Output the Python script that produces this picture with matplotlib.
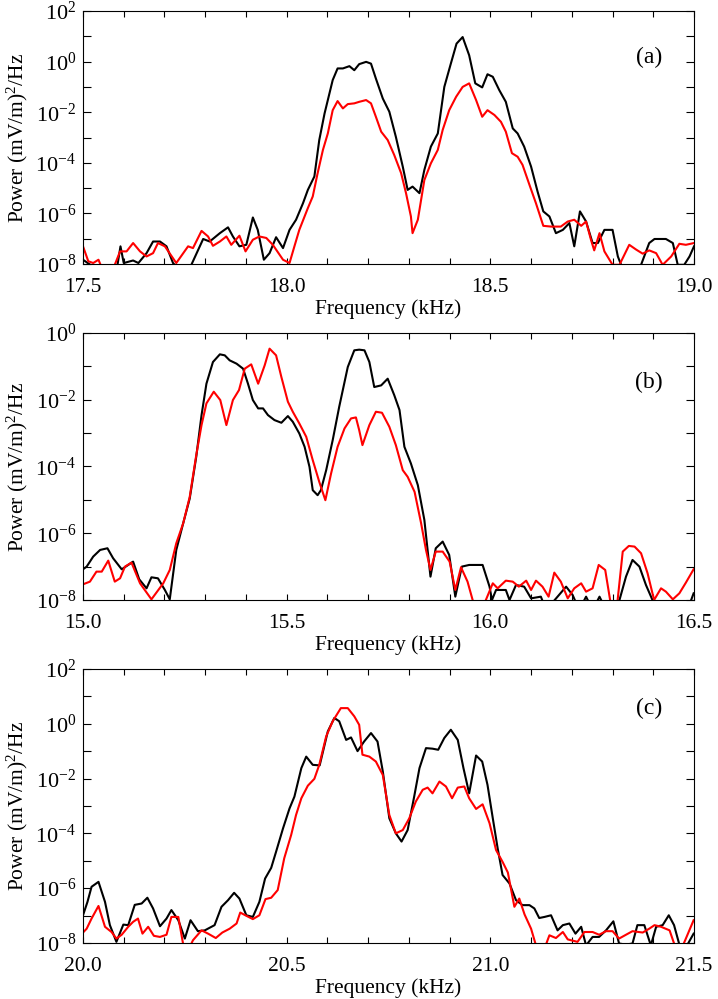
import numpy as np
import matplotlib
matplotlib.use('Agg')
import matplotlib.pyplot as plt
from matplotlib.ticker import FixedLocator, MultipleLocator, FuncFormatter

# serif look like the original figure
plt.rcParams['font.family'] = 'Liberation Serif'
plt.rcParams['mathtext.fontset'] = 'custom'
plt.rcParams['mathtext.rm'] = 'Liberation Serif'
plt.rcParams['mathtext.it'] = 'Liberation Serif:italic'

# ---- panel (a): frequency (kHz) and log10 power ----
fa_black = [17.500, 17.542, 17.582, 17.592, 17.600, 17.623, 17.636, 17.656, 17.672, 17.689,
            17.705, 17.721, 17.746, 17.766, 17.795, 17.811, 17.836, 17.856, 17.868, 17.884,
            17.901, 17.917, 17.929, 17.944, 17.958, 17.974, 17.991, 18.007, 18.023, 18.040,
            18.052, 18.068, 18.080, 18.093, 18.113, 18.125, 18.138, 18.154, 18.166, 18.178,
            18.195, 18.207, 18.219, 18.236, 18.252, 18.268, 18.285, 18.297, 18.309, 18.326,
            18.338, 18.354, 18.371, 18.387, 18.403, 18.417, 18.432, 18.448, 18.463, 18.480,
            18.493, 18.506, 18.522, 18.538, 18.555, 18.567, 18.583, 18.600, 18.616, 18.630,
            18.645, 18.661, 18.678, 18.694, 18.706, 18.720, 18.735, 18.751, 18.764, 18.780,
            18.800, 18.813, 18.821, 18.845, 18.870, 18.890, 18.903, 18.931, 18.948, 18.960,
            18.976, 18.989, 19.000]
pa_black = [-7.83, -8.30, -8.30, -7.30, -7.96, -7.86, -7.96, -7.57, -7.11, -7.11,
            -7.30, -7.96, -8.40, -8.03, -7.01, -7.11, -6.78, -6.55, -6.91, -7.30,
            -7.24, -6.16, -6.65, -7.83, -7.57, -6.94, -7.37, -6.65, -6.25, -5.60,
            -5.07, -4.54, -3.10, -2.05, -0.73, -0.27, -0.27, -0.18, -0.34, -0.10,
            -0.01, -0.08, -0.67, -1.46, -1.98, -2.97, -4.15, -5.07, -4.94, -5.20,
            -4.28, -3.36, -2.84, -1.00, -0.08, 0.71, 0.97, 0.25, -0.86, -1.02,
            -0.50, -0.60, -1.13, -1.59, -2.64, -2.84, -3.36, -4.15, -5.14, -5.92,
            -6.12, -6.78, -6.65, -6.38, -7.30, -5.92, -6.32, -7.17, -7.17, -6.65,
            -6.65, -7.70, -8.03, -8.40, -8.03, -7.17, -7.01, -7.01, -7.17, -8.03,
            -8.03, -7.70, -7.30]
fa_red = [17.500, 17.513, 17.525, 17.538, 17.550, 17.578, 17.591, 17.607, 17.623, 17.640,
          17.656, 17.672, 17.684, 17.701, 17.729, 17.758, 17.770, 17.791, 17.807, 17.819,
          17.836, 17.852, 17.864, 17.884, 17.899, 17.917, 17.933, 17.950, 17.966, 17.991,
          18.007, 18.019, 18.031, 18.052, 18.064, 18.076, 18.089, 18.101, 18.113, 18.125,
          18.138, 18.150, 18.166, 18.178, 18.195, 18.207, 18.219, 18.232, 18.248, 18.264,
          18.281, 18.293, 18.305, 18.309, 18.322, 18.338, 18.354, 18.371, 18.383, 18.399,
          18.416, 18.432, 18.448, 18.465, 18.480, 18.493, 18.510, 18.526, 18.538, 18.553,
          18.567, 18.579, 18.596, 18.612, 18.630, 18.649, 18.673, 18.690, 18.706, 18.723,
          18.735, 18.747, 18.755, 18.768, 18.780, 18.800, 18.817, 18.841, 18.858, 18.874,
          18.890, 18.907, 18.923, 18.944, 18.964, 18.980, 19.000]
pa_red = [-7.30, -7.89, -7.96, -7.83, -8.30, -8.03, -7.50, -7.50, -7.17, -7.50,
          -7.70, -7.57, -7.17, -7.30, -7.96, -7.30, -7.37, -6.69, -6.91, -7.28,
          -7.11, -6.91, -7.24, -6.88, -7.50, -7.04, -6.91, -6.97, -7.24, -7.83,
          -7.96, -7.30, -6.65, -5.79, -5.33, -4.41, -3.49, -2.84, -1.92, -1.56,
          -1.85, -1.68, -1.65, -1.59, -1.52, -1.65, -2.18, -2.77, -3.10, -3.69,
          -4.41, -5.20, -6.12, -6.78, -6.25, -4.68, -4.02, -3.49, -2.70, -1.92,
          -1.39, -1.00, -0.86, -1.52, -2.18, -1.92, -2.11, -2.38, -2.77, -3.62,
          -3.76, -4.08, -4.87, -5.60, -6.49, -6.52, -6.52, -6.32, -6.25, -6.49,
          -6.32, -7.04, -7.46, -6.78, -7.50, -8.03, -8.03, -7.24, -7.43, -7.59,
          -7.46, -7.57, -8.03, -7.70, -7.20, -7.24, -7.17]

# ---- panel (b) ----
fb_black = [15.000, 15.009, 15.025, 15.042, 15.060, 15.074, 15.095, 15.111, 15.123, 15.138,
            15.156, 15.168, 15.184, 15.201, 15.213, 15.229, 15.246, 15.262, 15.278, 15.291,
            15.303, 15.319, 15.336, 15.348, 15.360, 15.377, 15.393, 15.405, 15.417, 15.430,
            15.442, 15.454, 15.470, 15.487, 15.503, 15.515, 15.531, 15.544, 15.556, 15.564,
            15.576, 15.584, 15.597, 15.613, 15.629, 15.650, 15.666, 15.678, 15.691, 15.703,
            15.715, 15.732, 15.748, 15.764, 15.777, 15.789, 15.805, 15.822, 15.838, 15.853,
            15.866, 15.883, 15.899, 15.914, 15.930, 15.948, 15.981, 15.998, 16.004, 16.014,
            16.038, 16.047, 16.063, 16.083, 16.100, 16.124, 16.137, 16.186, 16.202, 16.218,
            16.235, 16.251, 16.268, 16.284, 16.317, 16.333, 16.349, 16.366, 16.382, 16.398,
            16.415, 16.484, 16.499]
pb_black = [-7.08, -7.00, -6.70, -6.50, -6.45, -6.75, -7.08, -6.95, -6.85, -7.38,
            -7.65, -7.32, -7.35, -7.70, -7.98, -6.50, -5.70, -4.96, -3.71, -2.46,
            -1.52, -0.87, -0.64, -0.67, -0.82, -0.92, -1.07, -1.52, -2.01, -2.26,
            -2.26, -2.46, -2.61, -2.69, -2.49, -2.66, -3.01, -3.41, -4.01, -4.71,
            -4.86, -4.71, -4.11, -3.21, -2.21, -1.02, -0.52, -0.50, -0.52, -0.87,
            -1.62, -1.57, -1.37, -1.86, -2.31, -3.41, -3.91, -4.56, -5.60, -7.30,
            -6.45, -6.25, -6.65, -7.90, -7.00, -6.95, -6.95, -7.60, -8.00, -7.70,
            -7.70, -8.00, -7.55, -7.60, -7.95, -7.90, -8.30, -7.60, -7.85, -8.30,
            -7.90, -8.30, -7.90, -8.30, -8.00, -7.30, -6.80, -7.00, -7.55, -8.00,
            -8.40, -8.30, -7.80]
fb_red = [15.000, 15.017, 15.033, 15.046, 15.062, 15.078, 15.091, 15.103, 15.119, 15.140,
          15.168, 15.197, 15.213, 15.229, 15.246, 15.262, 15.278, 15.291, 15.303, 15.321,
          15.337, 15.352, 15.368, 15.383, 15.397, 15.413, 15.430, 15.446, 15.458, 15.474,
          15.487, 15.503, 15.515, 15.531, 15.548, 15.564, 15.580, 15.595, 15.609, 15.625,
          15.642, 15.658, 15.670, 15.678, 15.686, 15.703, 15.719, 15.734, 15.752, 15.768,
          15.785, 15.797, 15.814, 15.830, 15.842, 15.853, 15.866, 15.883, 15.900, 15.914,
          15.928, 15.944, 15.957, 15.973, 15.989, 16.006, 16.018, 16.038, 16.055, 16.070,
          16.088, 16.100, 16.112, 16.128, 16.143, 16.157, 16.173, 16.190, 16.206, 16.223,
          16.235, 16.251, 16.266, 16.282, 16.294, 16.309, 16.325, 16.340, 16.354, 16.370,
          16.386, 16.402, 16.419, 16.431, 16.448, 16.464, 16.480, 16.499]
pb_red = [-7.53, -7.45, -7.15, -7.15, -6.82, -7.45, -7.35, -7.00, -6.88, -7.50,
          -7.98, -7.50, -7.10, -6.30, -5.70, -4.91, -3.66, -2.76, -2.11, -1.76,
          -2.01, -2.76, -2.01, -1.71, -1.07, -0.94, -1.52, -0.97, -0.47, -0.67,
          -1.32, -2.06, -2.36, -2.71, -3.11, -3.81, -4.46, -5.01, -4.21, -3.41,
          -2.86, -2.56, -2.53, -2.91, -3.36, -2.76, -2.36, -2.39, -2.81, -3.36,
          -4.11, -4.31, -4.76, -5.70, -6.50, -7.10, -6.55, -6.55, -6.85, -7.70,
          -7.02, -7.45, -8.02, -8.40, -8.00, -7.50, -7.65, -7.42, -7.45, -7.60,
          -7.42, -7.70, -7.42, -7.60, -7.90, -7.18, -7.45, -7.95, -7.65, -7.50,
          -7.75, -7.65, -6.95, -7.10, -8.00, -8.40, -6.55, -6.38, -6.40, -6.60,
          -7.20, -8.00, -7.65, -7.75, -7.98, -7.80, -7.48, -7.08]

# ---- panel (c) ----
fc_black = [20.000, 20.011, 20.021, 20.038, 20.054, 20.066, 20.082, 20.099, 20.111, 20.127,
            20.144, 20.158, 20.172, 20.189, 20.205, 20.217, 20.234, 20.250, 20.264, 20.282,
            20.299, 20.323, 20.340, 20.356, 20.371, 20.384, 20.401, 20.417, 20.433, 20.447,
            20.462, 20.474, 20.491, 20.507, 20.519, 20.536, 20.548, 20.564, 20.581, 20.601,
            20.617, 20.629, 20.646, 20.658, 20.674, 20.690, 20.707, 20.723, 20.736, 20.752,
            20.768, 20.782, 20.797, 20.813, 20.826, 20.842, 20.858, 20.872, 20.887, 20.903,
            20.920, 20.934, 20.948, 20.965, 20.980, 20.993, 21.006, 21.018, 21.030, 21.047,
            21.063, 21.079, 21.096, 21.108, 21.120, 21.133, 21.149, 21.165, 21.178, 21.194,
            21.209, 21.223, 21.235, 21.251, 21.267, 21.284, 21.302, 21.316, 21.333, 21.349,
            21.361, 21.378, 21.394, 21.407, 21.423, 21.438, 21.451, 21.464, 21.484, 21.499]
pc_black = [-6.99, -6.50, -5.95, -5.77, -6.50, -7.35, -7.96, -7.33, -7.35, -6.61,
            -6.56, -6.35, -6.74, -7.39, -7.11, -6.80, -7.17, -7.84, -7.17, -7.57,
            -7.54, -7.35, -6.68, -6.44, -6.17, -6.38, -6.99, -7.05, -6.50, -5.65,
            -5.26, -4.67, -3.82, -3.09, -2.66, -1.62, -1.20, -1.50, -1.52, -0.28,
            0.21, 0.09, -0.59, -0.50, -1.00, -0.65, -0.34, -0.65, -1.74, -3.45,
            -4.00, -4.30, -3.88, -2.66, -1.62, -0.89, -0.91, -0.95, -0.52, -0.22,
            -0.59, -1.62, -2.54, -1.16, -1.38, -2.23, -3.45, -4.55, -5.52, -5.83,
            -6.44, -6.62, -6.62, -6.74, -7.09, -7.05, -6.99, -7.54, -7.35, -7.29,
            -7.66, -7.41, -8.09, -7.78, -7.78, -7.54, -7.21, -8.02, -8.06, -8.02,
            -7.35, -7.35, -8.09, -7.41, -7.35, -6.99, -7.35, -8.06, -8.06, -7.66]
fc_red = [20.000, 20.009, 20.021, 20.038, 20.054, 20.070, 20.082, 20.095, 20.111, 20.123,
          20.135, 20.146, 20.160, 20.174, 20.189, 20.205, 20.217, 20.234, 20.246, 20.254,
          20.270, 20.291, 20.307, 20.326, 20.342, 20.360, 20.377, 20.386, 20.401, 20.417,
          20.433, 20.448, 20.462, 20.478, 20.494, 20.511, 20.523, 20.536, 20.552, 20.568,
          20.580, 20.597, 20.613, 20.633, 20.650, 20.666, 20.678, 20.686, 20.703, 20.719,
          20.736, 20.752, 20.768, 20.785, 20.801, 20.817, 20.834, 20.846, 20.858, 20.875,
          20.891, 20.906, 20.920, 20.936, 20.948, 20.965, 20.981, 20.998, 21.014, 21.030,
          21.043, 21.059, 21.071, 21.084, 21.100, 21.112, 21.128, 21.145, 21.161, 21.178,
          21.190, 21.214, 21.231, 21.251, 21.267, 21.284, 21.300, 21.316, 21.333, 21.349,
          21.374, 21.390, 21.403, 21.419, 21.440, 21.452, 21.464, 21.480, 21.499]
pc_red = [-7.62, -7.48, -7.11, -6.65, -7.41, -7.60, -7.84, -7.70, -7.41, -7.23,
          -7.11, -7.66, -7.41, -7.74, -7.78, -7.70, -7.05, -7.05, -8.06, -8.40,
          -7.90, -7.54, -7.66, -7.82, -7.62, -7.48, -7.29, -6.89, -7.01, -7.13,
          -6.99, -6.40, -6.35, -6.07, -4.91, -4.06, -3.33, -2.72, -2.26, -2.01,
          -1.50, -0.46, 0.09, 0.57, 0.57, 0.27, -0.04, -1.13, -1.20, -1.38,
          -1.87, -3.33, -4.00, -3.88, -3.45, -2.84, -2.41, -2.33, -2.54, -2.11,
          -2.29, -2.72, -2.33, -2.29, -2.72, -3.11, -2.94, -3.63, -4.61, -5.04,
          -5.43, -6.68, -6.38, -6.96, -7.48, -8.09, -8.40, -7.72, -7.82, -7.60,
          -7.87, -7.96, -7.60, -7.60, -7.70, -7.57, -7.57, -7.84, -7.70, -7.57,
          -7.62, -7.48, -7.35, -7.41, -7.54, -8.06, -8.40, -7.84, -7.17]

panels = [
    (fa_black, pa_black, fa_red, pa_red, (17.5, 19.0), (1e-8, 1e2), '(a)'),
    (fb_black, pb_black, fb_red, pb_red, (15.0, 16.5), (1e-8, 1e0), '(b)'),
    (fc_black, pc_black, fc_red, pc_red, (20.0, 21.5), (1e-8, 1e2), '(c)'),
]
# axes rectangles in figure fraction [left, bottom, width, height]
rects = [[0.1156, 0.7357, 0.851, 0.2533],
         [0.1156, 0.3994, 0.851, 0.2673],
         [0.1156, 0.0561, 0.851, 0.2743]]
label_y = [0.818, 0.813, 0.854]

def ylab(v, pos):
    e = int(round(np.log10(v)))
    if e % 2:
        return ''
    return r'10$^{%d}$' % e

fig = plt.figure(figsize=(7.18, 9.99), dpi=100)

for i, (fk, pk, fr, pr, xl, yl, tag) in enumerate(panels):
    ax = fig.add_axes(rects[i])
    ax.plot(fk, 10.0 ** np.array(pk), color='black', lw=1.5)
    ax.plot(fr, 10.0 ** np.array(pr), color='#ff0000', lw=1.5)
    ax.set_yscale('log')
    ax.set_xlim(*xl)
    ax.set_ylim(*yl)

    lo, hi = int(np.log10(yl[0])), int(np.log10(yl[1]))
    ax.yaxis.set_major_locator(FixedLocator([10.0 ** e for e in range(lo, hi + 1)]))
    ax.yaxis.set_minor_locator(FixedLocator([]))
    ax.yaxis.set_major_formatter(FuncFormatter(ylab))
    ax.xaxis.set_major_locator(MultipleLocator(0.5))
    ax.xaxis.set_minor_locator(MultipleLocator(0.1))
    ax.xaxis.set_major_formatter(FuncFormatter(lambda v, p: '%.1f' % v))

    ax.tick_params(which='both', direction='in', top=True, right=True, width=0.8)
    ax.tick_params(axis='x', labelsize=15.5, pad=10)
    ax.tick_params(axis='y', labelsize=16, pad=5)
    ax.tick_params(axis='y', which='major', length=6)
    ax.tick_params(axis='x', which='major', length=4)
    ax.tick_params(axis='x', which='minor', length=4)
    for s in ax.spines.values():
        s.set_linewidth(0.8)

    ax.set_xlabel('Frequency (kHz)', fontsize=15.5, labelpad=2)
    ax.set_ylabel(r'Power (mV/m)$^2$/Hz', fontsize=15.5)
    ax.yaxis.set_label_coords(-0.087, 0.5)
    ax.text(0.926, label_y[i], tag, transform=ax.transAxes, fontsize=17,
            ha='center', va='center')

fig.savefig('out.png', dpi=100)
